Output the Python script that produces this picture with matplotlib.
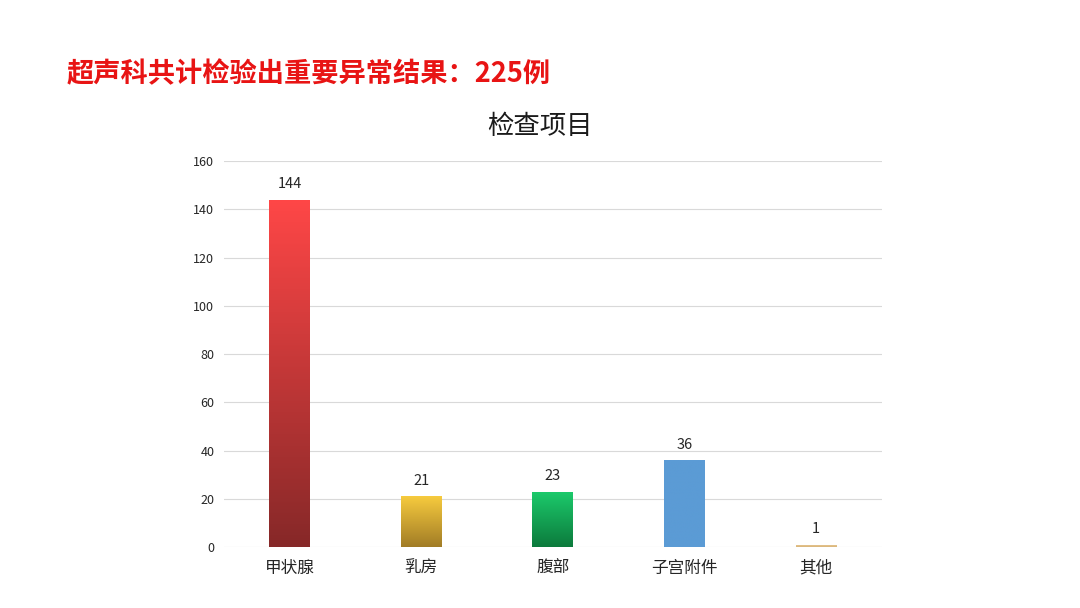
import matplotlib
matplotlib.use("Agg")
import matplotlib.pyplot as plt
import numpy as np
from matplotlib.colors import LinearSegmentedColormap

plt.rcParams['font.family'] = ['Noto Sans CJK SC', 'DejaVu Sans']

categories = ["甲状腺", "乳房", "腹部", "子宫附件", "其他"]
values = [144, 21, 23, 36, 1]
# (top colour, bottom colour) for each bar
bar_colors = [("#FF4747", "#862828"),
              ("#F7CB3E", "#A17C26"),
              ("#1CCB6C", "#0C7A3C"),
              ("#5B9BD5", "#5B9BD5"),
              ("#EBCB95", "#D8B57A")]
yticks = [0, 20, 40, 60, 80, 100, 120, 140, 160]

fig = plt.figure(figsize=(10.8, 6.08), dpi=100)
fig.text(0.062, 0.878, "超声科共计检验出重要异常结果：225例", color="#E81414",
         fontsize=19.6, fontweight="bold", ha="left", va="center")
fig.text(0.5, 0.792, "检查项目", fontsize=19, color="#1a1a1a", ha="center", va="center")

ax = fig.add_axes([0.2074, 0.1003, 0.609, 0.6349])
x = np.arange(len(categories))
width = 0.31
bars = ax.bar(x, values, width=width, color="none", zorder=2)

grad = np.linspace(1, 0, 256).reshape(-1, 1)
for b, (top, bot) in zip(bars, bar_colors):
    cmap = LinearSegmentedColormap.from_list("g", [bot, top])
    x0 = b.get_x()
    h = b.get_height()
    im = ax.imshow(grad, cmap=cmap, vmin=0, vmax=1, aspect="auto",
                   extent=[x0, x0 + b.get_width(), 0, h], zorder=3)
    im.set_clip_path(b)

ax.set_xlim(-0.5, len(categories) - 0.5)
ax.set_ylim(0, 160)

for xi, v in zip(x, values):
    ax.text(xi, v + 3.5, str(v), ha="center", va="bottom", fontsize=10.5, color="#262626")

ax.set_yticks(yticks)
ax.set_xticks(x)
ax.set_xticklabels(categories, fontsize=12, color="#262626")
ax.tick_params(axis="y", labelsize=9, colors="#262626", length=0, pad=7)
ax.tick_params(axis="x", length=0, pad=9)
ax.grid(axis="y", color="#D9D9D9", linewidth=0.8, zorder=0)
ax.set_axisbelow(True)
for s in ax.spines.values():
    s.set_visible(False)

fig.savefig("out.png", dpi=100)
